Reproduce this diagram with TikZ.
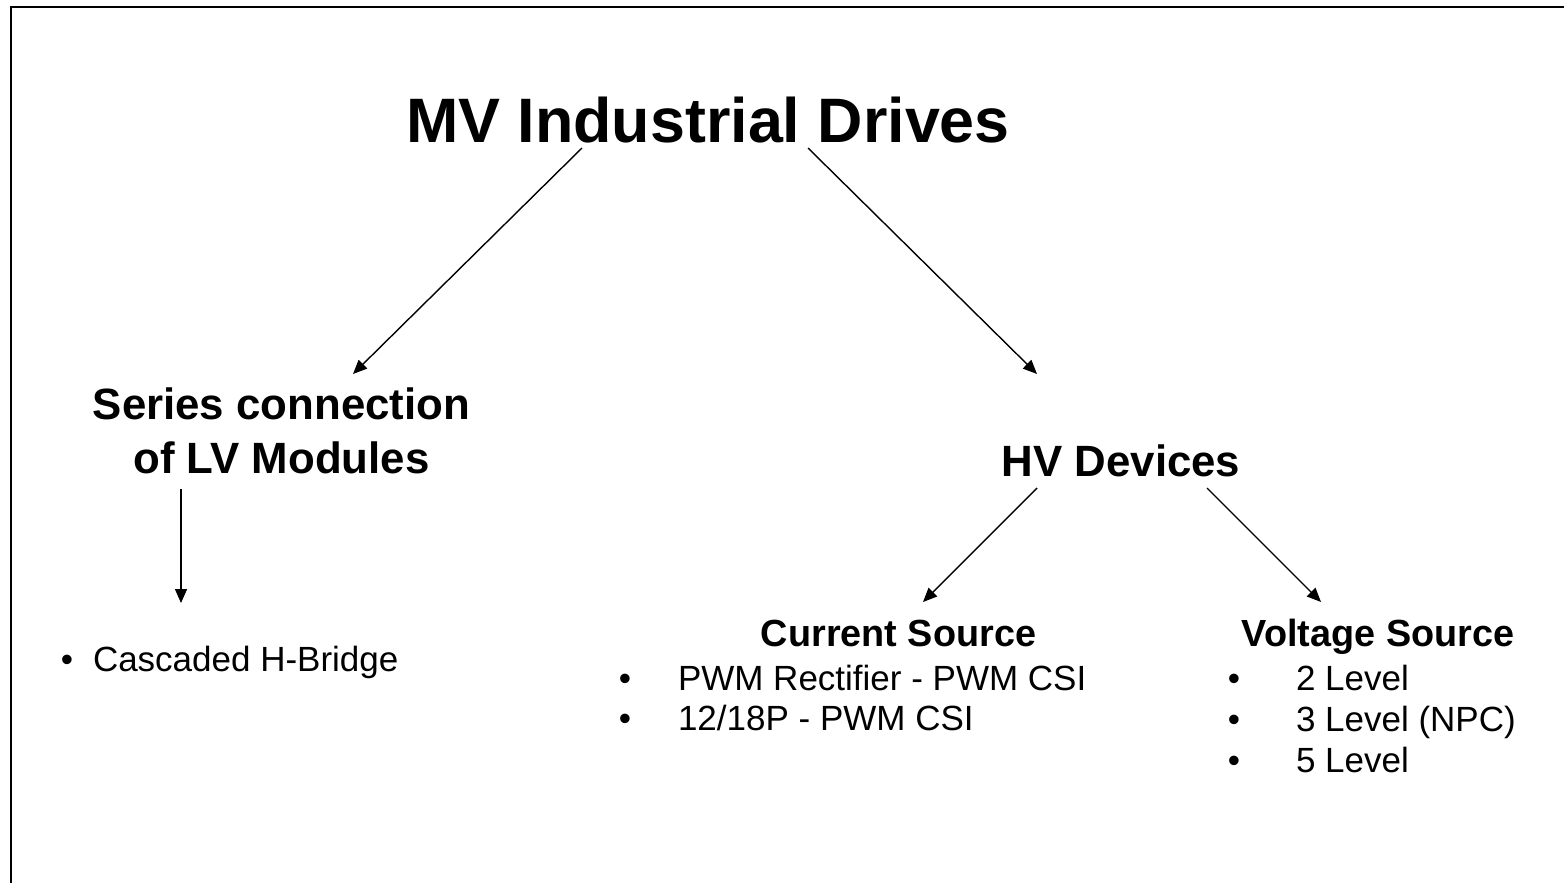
\documentclass[tikz,border=0pt]{standalone}
\usepackage{fontspec}
\setmainfont{Liberation Sans}
\usetikzlibrary{arrows.meta}
\begin{document}
\begin{tikzpicture}[x=0.5pt,y=-0.5pt,
  txt/.style={inner sep=0pt,outer sep=0pt},
  titlefont/.style={txt,font=\fontsize{31.4}{36}\selectfont\bfseries},
  headfont/.style={txt,font=\fontsize{21.9}{27}\selectfont\bfseries,align=center},
  subfont/.style={txt,font=\fontsize{18.9}{22}\selectfont\bfseries},
  itemfont/.style={txt,font=\fontsize{17.5}{21}\selectfont},
  conn/.style={line width=0.7pt,-{Triangle[length=7pt,width=6pt]}},
  frame/.style={line width=1pt}]
\useasboundingbox (0,0) rectangle (1564,883);
\draw[frame] (11,883) -- (11,7) -- (1564,7);
% titles
\node[titlefont,anchor=base] (title) at (708,142) {MV Industrial Drives};
\node[headfont,anchor=base] (series) at (281.5,473) {Series connection\\of LV Modules};
\node[headfont,anchor=base] (hv) at (1121,476) {HV Devices};
\node[subfont,anchor=base] (cs) at (898.5,646) {Current Source};
\node[subfont,anchor=base] (vs) at (1378,646) {Voltage Source};
% items
\node[itemfont,anchor=base] (b0) at (67,671) {•};
\node[itemfont,anchor=base west] (i0) at (93,671) {Cascaded H-Bridge};
\node[itemfont,anchor=base] (b1) at (625,690) {•};
\node[itemfont,anchor=base west] (i1) at (678,690) {PWM Rectifier - PWM CSI};
\node[itemfont,anchor=base] (b2) at (625,730) {•};
\node[itemfont,anchor=base west] (i2) at (678,730) {12/18P - PWM CSI};
\node[itemfont,anchor=base] (b3) at (1234,690) {•};
\node[itemfont,anchor=base west] (i3) at (1296,690) {2 Level};
\node[itemfont,anchor=base] (b4) at (1234,731) {•};
\node[itemfont,anchor=base west] (i4) at (1296,731) {3 Level (NPC)};
\node[itemfont,anchor=base] (b5) at (1234,772) {•};
\node[itemfont,anchor=base west] (i5) at (1296,772) {5 Level};
% connector end points
\coordinate (a1s) at (582,148);
\coordinate (a1e) at (353,374);
\coordinate (a2s) at (808,148);
\coordinate (a2e) at (1037,374);
\coordinate (a3s) at (181,489);
\coordinate (a3e) at (181,603);
\coordinate (a4s) at (1037,488);
\coordinate (a4e) at (923,602);
\coordinate (a5s) at (1207,488);
\coordinate (a5e) at (1321,602);
\draw[conn] (a1s) -- (a1e);
\draw[conn] (a2s) -- (a2e);
\draw[conn] (a3s) -- (a3e);
\draw[conn] (a4s) -- (a4e);
\draw[conn] (a5s) -- (a5e);
\end{tikzpicture}
\end{document}
